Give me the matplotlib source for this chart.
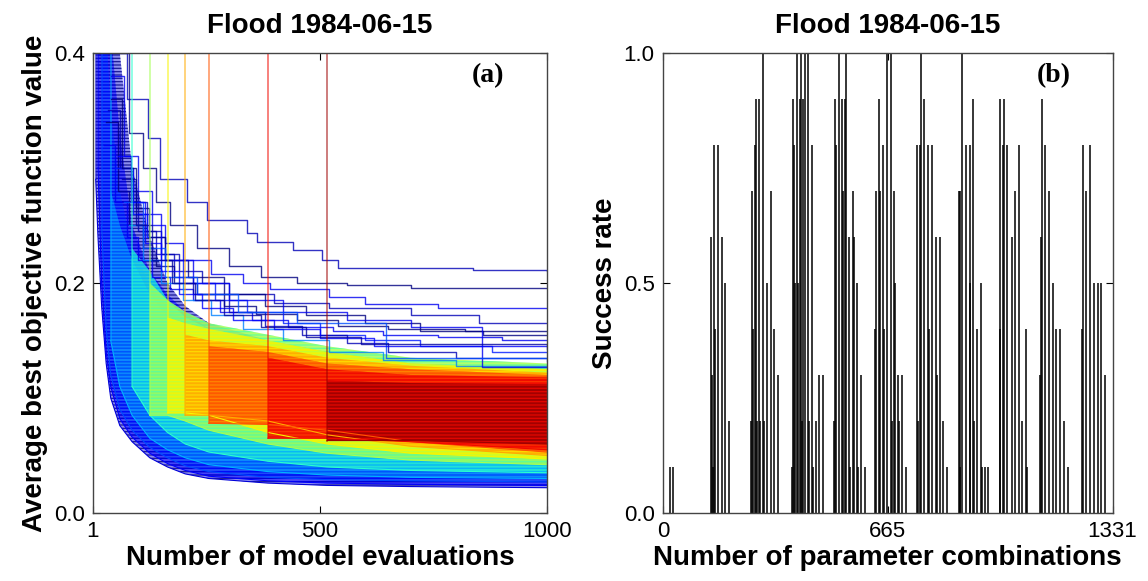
import numpy as np
import matplotlib.pyplot as plt

plt.rcParams['font.family'] = ['Liberation Sans', 'DejaVu Sans']
plt.rcParams['hatch.linewidth'] = 0.9

nan = np.nan

# ---- panel (a): envelopes of the best-so-far curves, one band per population size ----
knots = [7, 12, 20, 30, 40, 60, 87, 126, 165, 204, 256, 386, 516, 700, 1000]
pop_starts = [7, 12, 20, 40, 87, 126, 165, 204, 256, 386, 516]
pop_levels = [0.08, 0.12, 0.2, 0.3, 0.4, 0.55, 0.65, 0.73, 0.82, 0.9, 0.97]
stripe_levels = [0.0, 0.08, 0.12, 0.2, 0.3, 0.45, 0.58, 0.67, 0.76, 0.84, 0.9]
band_alpha = [0.45, 0.5, 0.55, 0.6, 0.75, 0.85, 0.9, 0.95, 0.95, 0.95, 0.95]

band_upper = [
    [0.42, 0.42, 0.42, 0.42, 0.42, 0.40, 0.30, 0.24, 0.20, 0.18, 0.165, 0.15, 0.14, 0.13, 0.125],
    [nan, 0.42, 0.42, 0.42, 0.42, 0.33, 0.25, 0.21, 0.19, 0.175, 0.16, 0.145, 0.135, 0.128, 0.12],
    [nan, nan, 0.42, 0.42, 0.35, 0.28, 0.23, 0.20, 0.18, 0.165, 0.155, 0.14, 0.13, 0.125, 0.12],
    [nan, nan, nan, nan, 0.28, 0.25, 0.22, 0.19, 0.17, 0.16, 0.15, 0.14, 0.13, 0.125, 0.12],
    [nan, nan, nan, nan, nan, nan, 0.23, 0.21, 0.185, 0.17, 0.16, 0.15, 0.14, 0.13, 0.125],
    [nan, nan, nan, nan, nan, nan, nan, 0.20, 0.185, 0.175, 0.165, 0.155, 0.145, 0.135, 0.13],
    [nan, nan, nan, nan, nan, nan, nan, nan, 0.17, 0.165, 0.16, 0.15, 0.14, 0.13, 0.125],
    [nan, nan, nan, nan, nan, nan, nan, nan, nan, 0.155, 0.15, 0.145, 0.135, 0.128, 0.122],
    [nan, nan, nan, nan, nan, nan, nan, nan, nan, nan, 0.145, 0.14, 0.13, 0.125, 0.12],
    [nan, nan, nan, nan, nan, nan, nan, nan, nan, nan, nan, 0.135, 0.125, 0.12, 0.118],
    [nan, nan, nan, nan, nan, nan, nan, nan, nan, nan, nan, nan, 0.115, 0.113, 0.112],
]
band_lower = [
    [0.29, 0.24, 0.18, 0.13, 0.10, 0.076, 0.062, 0.048, 0.040, 0.034, 0.030, 0.026, 0.024, 0.023, 0.022],
    [nan, 0.30, 0.20, 0.14, 0.11, 0.082, 0.066, 0.052, 0.043, 0.037, 0.032, 0.028, 0.026, 0.025, 0.024],
    [nan, nan, 0.25, 0.16, 0.12, 0.09, 0.072, 0.057, 0.048, 0.041, 0.036, 0.031, 0.029, 0.028, 0.027],
    [nan, nan, nan, nan, 0.15, 0.11, 0.085, 0.065, 0.055, 0.048, 0.042, 0.036, 0.033, 0.031, 0.030],
    [nan, nan, nan, nan, nan, nan, 0.11, 0.085, 0.07, 0.06, 0.053, 0.045, 0.04, 0.037, 0.035],
    [nan, nan, nan, nan, nan, nan, nan, 0.085, 0.085, 0.08, 0.072, 0.06, 0.052, 0.046, 0.042],
    [nan, nan, nan, nan, nan, nan, nan, nan, 0.087, 0.087, 0.085, 0.07, 0.06, 0.052, 0.047],
    [nan, nan, nan, nan, nan, nan, nan, nan, nan, 0.085, 0.085, 0.08, 0.068, 0.058, 0.05],
    [nan, nan, nan, nan, nan, nan, nan, nan, nan, nan, 0.078, 0.077, 0.072, 0.062, 0.053],
    [nan, nan, nan, nan, nan, nan, nan, nan, nan, nan, nan, 0.065, 0.065, 0.062, 0.055],
    [nan, nan, nan, nan, nan, nan, nan, nan, nan, nan, nan, nan, 0.063, 0.063, 0.060],
]

# individual runs that stay well above the bulk (small populations)
stuck_x = [
    [30, 75, 123, 148, 207, 251, 339, 361, 441, 504, 541, 837, 1000],
    [45, 80, 110, 140, 170, 230, 300, 370, 450, 560, 700, 1000],
    [40, 70, 100, 130, 160, 200, 260, 330, 390, 520, 600, 760, 1000],
    [35, 60, 90, 120, 150, 190, 240, 300, 400, 520, 700, 850, 1000],
    [30, 55, 80, 110, 140, 180, 230, 290, 360, 450, 540, 650, 820, 1000],
    [25, 50, 75, 100, 130, 170, 220, 280, 350, 430, 530, 640, 760, 900, 1000],
    [50, 90, 120, 160, 200, 270, 340, 420, 500, 600, 720, 880, 1000],
    [60, 100, 140, 180, 220, 300, 380, 460, 560, 650, 800, 1000],
    [80, 110, 150, 200, 260, 330, 420, 520, 640, 800, 1000],
    [40, 65, 95, 125, 160, 210, 290, 380, 470, 600, 720, 860, 1000],
    [100, 150, 220, 300, 420, 560, 700, 856, 1000],
    [70, 110, 160, 230, 320, 450, 646, 1000],
    [55, 85, 115, 150, 190, 240, 310, 400, 500, 620, 1000],
    [65, 95, 130, 175, 225, 290, 370, 470, 590, 1000],
]
stuck_y = [
    [0.40, 0.36, 0.326, 0.29, 0.27, 0.255, 0.243, 0.236, 0.229, 0.22, 0.213, 0.211, 0.21],
    [0.40, 0.33, 0.30, 0.27, 0.25, 0.23, 0.215, 0.205, 0.200, 0.198, 0.196, 0.196],
    [0.38, 0.31, 0.28, 0.25, 0.235, 0.22, 0.208, 0.20, 0.195, 0.188, 0.182, 0.178, 0.178],
    [0.35, 0.30, 0.27, 0.245, 0.225, 0.21, 0.20, 0.19, 0.183, 0.178, 0.172, 0.165, 0.165],
    [0.34, 0.28, 0.25, 0.23, 0.215, 0.20, 0.19, 0.18, 0.173, 0.168, 0.163, 0.16, 0.158, 0.158],
    [0.32, 0.27, 0.24, 0.22, 0.205, 0.195, 0.185, 0.175, 0.168, 0.162, 0.158, 0.155, 0.153, 0.15, 0.15],
    [0.30, 0.26, 0.24, 0.22, 0.20, 0.185, 0.175, 0.165, 0.155, 0.15, 0.145, 0.14, 0.14],
    [0.28, 0.245, 0.225, 0.205, 0.19, 0.175, 0.163, 0.155, 0.148, 0.14, 0.135, 0.135],
    [0.25, 0.22, 0.20, 0.185, 0.172, 0.16, 0.15, 0.14, 0.133, 0.128, 0.128],
    [0.36, 0.30, 0.265, 0.24, 0.22, 0.205, 0.19, 0.18, 0.172, 0.165, 0.158, 0.155, 0.155],
    [0.26, 0.22, 0.20, 0.185, 0.175, 0.168, 0.162, 0.127, 0.127],
    [0.27, 0.23, 0.205, 0.19, 0.175, 0.165, 0.135, 0.132],
    [0.31, 0.27, 0.235, 0.21, 0.19, 0.178, 0.168, 0.16, 0.152, 0.145, 0.143],
    [0.29, 0.25, 0.22, 0.2, 0.185, 0.172, 0.162, 0.153, 0.147, 0.145],
]
stuck_level = [0.05, 0.0, 0.1, 0.05, 0.0, 0.1, 0.15, 0.05, 0.25, 0.0, 0.1, 0.2, 0.12, 0.03]

# ---- panel (b): success rate of each parameter combination ----
combo_id = [20, 30,
            142, 145, 147, 152, 155, 163, 174, 185, 196,
            262, 264, 267, 273, 275, 278, 285, 288, 297, 300, 308, 319, 330, 341,
            383, 385, 389, 391, 397, 399, 405, 409, 411, 416, 420, 429, 432, 441, 443, 452, 463, 474,
            506, 509, 512, 520, 530, 533, 540, 542, 551, 553, 563, 565, 573, 576, 585, 597,
            628, 630, 641, 644, 652, 655, 663, 676, 678, 684, 687, 696, 699, 707, 720,
            752, 754, 760, 765, 774, 785, 787, 797, 808, 810, 819, 830, 842,
            875, 878, 880, 886, 897, 908, 910, 919, 922, 930, 941, 944, 952, 962,
            997, 999, 1007, 1009, 1020, 1032, 1043, 1054, 1063, 1076, 1078,
            1117, 1119, 1122, 1132, 1143, 1155, 1165, 1176, 1186, 1199,
            1241, 1243, 1253, 1264, 1275, 1287, 1298, 1310]
success = [0.1, 0.1,
           0.6, 0.3, 0.1, 0.8, 0.4, 0.8, 0.6, 0.5, 0.2,
           0.2, 0.7, 0.4, 0.8, 0.9, 0.2, 0.9, 0.2, 1.0, 0.2, 0.5, 0.7, 0.4, 0.3,
           0.1, 0.9, 0.8, 0.5, 1.0, 0.5, 0.9, 1.0, 0.2, 0.9, 1.0, 1.0, 0.2, 0.8, 0.1, 0.2, 0.3, 0.3,
           0.2, 0.9, 0.8, 1.0, 0.9, 0.7, 0.9, 1.0, 0.6, 0.1, 0.7, 0.6, 0.5, 0.1, 0.3, 0.1,
           0.4, 0.7, 0.9, 0.7, 0.8, 0.4, 1.0, 1.0, 0.2, 0.7, 0.5, 0.3, 0.2, 0.3, 0.1,
           0.8, 0.2, 0.8, 1.0, 0.9, 0.8, 0.4, 0.8, 0.6, 0.3, 0.6, 0.2, 0.1,
           0.7, 0.1, 0.7, 1.0, 0.8, 0.8, 0.5, 0.9, 0.2, 0.4, 0.5, 0.1, 0.1, 0.1,
           0.4, 0.9, 0.8, 0.9, 0.8, 0.6, 0.7, 0.8, 0.2, 0.4, 0.1,
           0.3, 0.6, 0.9, 0.8, 0.7, 0.5, 0.4, 0.4, 0.2, 0.1,
           0.4, 0.8, 0.7, 0.8, 0.5, 0.5, 0.5, 0.3]

title = 'Flood 1984-06-15'
jet = plt.get_cmap('jet')

fig = plt.figure(figsize=(11.48, 5.81), dpi=100)
ax1 = fig.add_axes([0.081, 0.117, 0.3955, 0.792])
ax2 = fig.add_axes([0.5775, 0.117, 0.3916, 0.792])

kx = np.array(knots, dtype=float)


def draw_band(g):
    c = jet(pop_levels[g])
    u = np.array(band_upper[g]); l = np.array(band_lower[g]); m = ~np.isnan(u)
    ax1.fill_between(kx[m], l[m], u[m], facecolor=c, alpha=band_alpha[g], lw=0)
    # stripes of neighbouring runs
    ax1.fill_between(kx[m], l[m], u[m], facecolor='none', edgecolor=jet(stripe_levels[g]),
                     hatch='-----', lw=0, alpha=0.8)
    ax1.plot(kx[m], l[m], color=c, lw=0.8)
    ax1.plot([pop_starts[g], pop_starts[g]], [l[m][0], 0.4], color=c, lw=1.1, alpha=0.65)


# small populations first, they end up underneath
for g in range(4):
    draw_band(g)

for xs, ys, lv in zip(stuck_x, stuck_y, stuck_level):
    ax1.plot(xs, ys, drawstyle='steps-post', color=jet(lv), lw=1.0, alpha=0.8)

for g in range(4, len(pop_starts)):
    draw_band(g)

ax1.set_xlim(1, 1000)
ax1.set_ylim(0, 0.4)
ax1.set_xticks([1, 500, 1000])
ax1.set_xticklabels(['1', '500', '1000'])
ax1.set_yticks([0.0, 0.2, 0.4])
ax1.set_yticklabels(['0.0', '0.2', '0.4'])
ax1.set_title(title, fontsize=20, fontweight='bold', pad=14)
ax1.set_xlabel('Number of model evaluations', fontsize=20, fontweight='bold', labelpad=2)
ax1.set_ylabel('Average best objective function value', fontsize=20, fontweight='bold', labelpad=4)
ax1.text(0.87, 0.95, '(a)', transform=ax1.transAxes, fontsize=20, fontweight='bold',
         family='Liberation Serif', ha='center', va='center')

ax2.vlines(combo_id, 0, success, color='black', lw=1.1)
ax2.set_xlim(0, 1331)
ax2.set_ylim(0, 1.0)
ax2.set_xticks([0, 665, 1331])
ax2.set_yticks([0.0, 0.5, 1.0])
ax2.set_yticklabels(['0.0', '0.5', '1.0'])
ax2.set_title(title, fontsize=20, fontweight='bold', pad=14)
ax2.set_xlabel('Number of parameter combinations', fontsize=20, fontweight='bold', labelpad=2)
ax2.set_ylabel('Success rate', fontsize=20, fontweight='bold', labelpad=4)
ax2.text(0.87, 0.95, '(b)', transform=ax2.transAxes, fontsize=20, fontweight='bold',
         family='Liberation Serif', ha='center', va='center')

for ax in (ax1, ax2):
    ax.tick_params(direction='in', top=True, right=True, length=5, labelsize=16, pad=6)
    for sp in ax.spines.values():
        sp.set_color('#444444')
        sp.set_linewidth(1.0)

fig.savefig('out.png', dpi=100)
